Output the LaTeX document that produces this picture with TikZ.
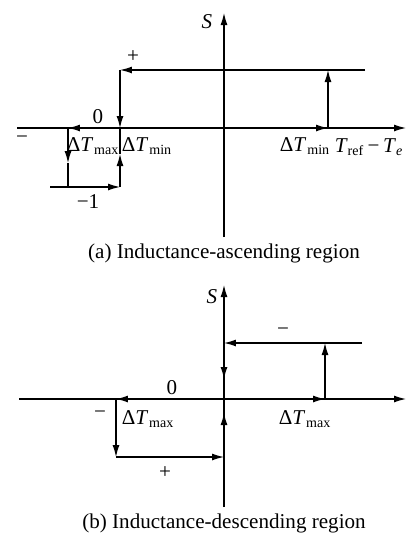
\documentclass[tikz,border=0pt]{standalone}
\usepackage{fontspec}
\setmainfont{Liberation Serif}
\usetikzlibrary{arrows.meta}
\newcommand{\dT}[1]{Δ\textit{T}\textsubscript{\kern0.5pt#1}}
\tikzset{
  axisline/.style={line width=0.7pt},
  flow/.style={line width=0.7pt,-{Latex[length=2.4mm,width=1.4mm]}},
  lab/.style={font=\fontsize{12}{14}\selectfont,inner sep=0pt}
}

\begin{document}
\begin{tikzpicture}[x=0.02cm,y=-0.02cm]
  \useasboundingbox (0,0) rectangle (407,535);
  % (a) inductance-ascending region
  \draw[flow] (17,128) -- (406,128);
  \draw[flow] (224,237) -- (224,13);
  \coordinate (aO) at (224,128);
  \coordinate (aP1) at (365,70); \coordinate (aP2) at (120,70); \coordinate (aP3) at (120,128);
  \coordinate (aM1) at (68,128); \coordinate (aMm) at (68,163); \coordinate (aM2) at (68,187);
  \coordinate (aM3) at (50,187); \coordinate (aM4) at (120,187); \coordinate (aMu) at (120,154);
  \coordinate (aR) at (328,128); \coordinate (aR2) at (328,70);
  \draw[flow] (aP1) -- (aP2);
  \draw[flow] (aP2) -- (aP3);
  \draw[flow] (aO) -- (aM1);
  \draw[flow] (aM1) -- (aMm); \draw[axisline] (aMm) -- (aM2);
  \draw[flow] (aM3) -- (aM4);
  \draw[flow] (aM4) -- (aMu); \draw[axisline] (aMu) -- (aP3);
  \draw[flow] (aO) -- (aR);
  \draw[flow] (aR) -- (aR2);
  \node[lab] (aS) at (207,22) {\textit{S}};
  \node[lab] (aplus) at (133,57) {+};
  \node[lab] (azero) at (98,117) {0};
  \node[lab] (aminus) at (22,140) {−};
  \node[lab] (amax) at (93,146) {\dT{max}};
  \node[lab] (amin) at (147,146) {\dT{min}};
  \node[lab] (amin2) at (305,146) {\dT{min}};
  \node[lab] (axlab) at (369,147) {\textit{T}\textsubscript{ref}\,−\,\textit{T}\textsubscript{\textit{e}}};
  \node[lab] (aneg) at (88,202) {−1};
  \node[lab] (acap) at (224,253) {(a) Inductance-ascending region};
  % (b) inductance-descending region
  \draw[flow] (19,399) -- (406,399);
  \draw[flow] (224,507) -- (224,285);
  \coordinate (bO) at (224,399);
  \coordinate (bU1) at (362,343); \coordinate (bU2) at (224,343); \coordinate (bUd) at (224,379);
  \coordinate (bR) at (325,399); \coordinate (bR2) at (325,343);
  \coordinate (bL) at (116,399); \coordinate (bL2) at (116,457);
  \coordinate (bB) at (224,457); \coordinate (bBu) at (224,413);
  \draw[flow] (bU1) -- (bU2);
  \draw[flow] (bU2) -- (bUd);
  \draw[flow] (bO) -- (bR);
  \draw[flow] (bR) -- (bR2);
  \draw[flow] (bO) -- (bL);
  \draw[flow] (bL) -- (bL2);
  \draw[flow] (bL2) -- (bB);
  \draw[flow] (bB) -- (bBu);
  \node[lab] (bS) at (212,297) {\textit{S}};
  \node[lab] (bminus) at (283,332) {−};
  \node[lab] (bzero) at (172,388) {0};
  \node[lab] (bminus2) at (100,415) {−};
  \node[lab] (bmax) at (148,419) {\dT{max}};
  \node[lab] (bmax2) at (305,419) {\dT{max}};
  \node[lab] (bplus) at (165,473) {+};
  \node[lab] (bcap) at (224,523) {(b) Inductance-descending region};
\end{tikzpicture}
\end{document}
